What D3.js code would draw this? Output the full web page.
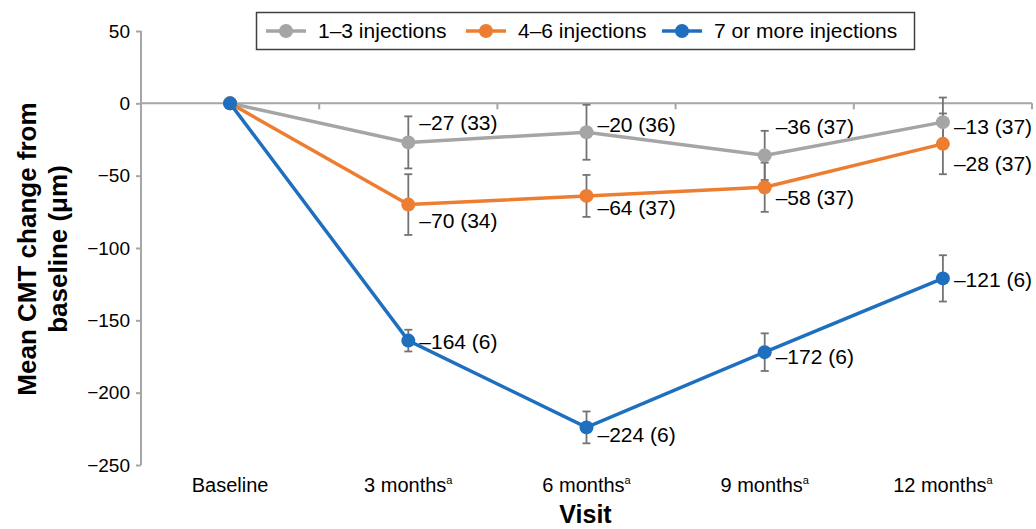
<!DOCTYPE html>
<html>
<head>
<meta charset="utf-8">
<script src="https://cdn.jsdelivr.net/npm/d3@7"></script>
<style>
  body { margin: 0; background: #fff; }
  text { font-family: "Liberation Sans", Arial, sans-serif; }
</style>
</head>
<body>
<svg id="chart" width="1036" height="529"></svg>
<script>
// visits on the x axis
var visits = ["Baseline", "3 months", "6 months", "9 months", "12 months"];
var visitSup = ["", "a", "a", "a", "a"];

// series names
var seriesNames = ["1–3 injections", "4–6 injections", "7 or more injections"];

// mean change, SD for error bars, and n per visit
var low = [0, -27, -20, -36, -13];
var lowErr = [0, 18, 19, 17, 17];
var lowN = [null, 33, 36, 37, 37];

var mid = [0, -70, -64, -58, -28];
var midErr = [0, 21, 14.5, 17, 21];
var midN = [null, 34, 37, 37, 37];

var high = [0, -164, -224, -172, -121];
var highErr = [0, 7.5, 11, 13, 16];
var highN = [null, 6, 6, 6, 6];

var yTicks = [50, 0, -50, -100, -150, -200, -250];

var colors = ["#a5a5a5", "#ed7d31", "#1f6fbf"];
// label vertical offsets per series per visit
var labelDy = [
  [0, -20, -8, -29, 5],
  [0, 16, 12, 10, 20],
  [0, 1, 7, 4, 1]
];

var svg = d3.select("#chart");
var mLeft = 141, mRight = 1032, mTop = 31, mBottom = 465;

var x = d3.scaleBand().domain(visits).range([mLeft, mRight]);
var y = d3.scaleLinear().domain([-250, 50]).range([mBottom, mTop]);
var cx = function(v) { return x(v) + x.bandwidth() / 2; };

var axisColor = "#a6a6a6";

// y axis
var yAxis = svg.append("g")
  .attr("transform", "translate(" + mLeft + ",0)")
  .call(d3.axisLeft(y).tickValues(yTicks).tickSize(5).tickFormat(function(d) {
    return d < 0 ? "\u2212" + Math.abs(d) : d;
  }));
yAxis.select(".domain").attr("stroke", axisColor).attr("stroke-width", 2).attr("d", "M0," + mTop + "V" + mBottom);
yAxis.selectAll(".tick line").attr("stroke", axisColor).attr("stroke-width", 2);
yAxis.selectAll(".tick text").attr("fill", "#000").attr("font-size", 19).attr("x", -11)
  .attr("font-family", "Liberation Sans, Arial, sans-serif");

// x axis at zero
var xAxis = svg.append("g")
  .attr("transform", "translate(0," + y(0) + ")");
xAxis.append("line")
  .attr("x1", mLeft).attr("x2", mRight)
  .attr("stroke", axisColor).attr("stroke-width", 2);
xAxis.selectAll("line.tk")
  .data(visits)
  .enter().append("line")
  .attr("class", "tk")
  .attr("x1", function(d) { return x(d) + x.bandwidth(); })
  .attr("x2", function(d) { return x(d) + x.bandwidth(); })
  .attr("y1", 0).attr("y2", 6)
  .attr("stroke", axisColor).attr("stroke-width", 2);

// category labels at bottom
var xl = svg.selectAll("text.xl")
  .data(visits)
  .enter().append("text")
  .attr("class", "xl")
  .attr("x", function(d) { return cx(d); })
  .attr("y", 492)
  .attr("text-anchor", "middle")
  .attr("font-size", 20);
xl.append("tspan").text(function(d) { return d; });
xl.append("tspan")
  .attr("font-size", 11)
  .attr("dy", -8)
  .text(function(d, i) { return visitSup[i]; });

// axis titles
svg.append("text")
  .attr("x", (mLeft + mRight) / 2 - 1).attr("y", 523)
  .attr("text-anchor", "middle")
  .attr("font-size", 25).attr("font-weight", "bold")
  .text("Visit");

var yt = svg.append("text")
  .attr("transform", "translate(36,249) rotate(-90)")
  .attr("text-anchor", "middle")
  .attr("font-size", 26).attr("font-weight", "bold");
yt.append("tspan").attr("x", 0).attr("dy", 0).text("Mean CMT change from");
yt.append("tspan").attr("x", 0).attr("dy", 31).text("baseline (\u03bcm)");

var series = [
  { name: seriesNames[0], vals: low, err: lowErr, n: lowN },
  { name: seriesNames[1], vals: mid, err: midErr, n: midN },
  { name: seriesNames[2], vals: high, err: highErr, n: highN }
];

// error bars
series.forEach(function(s) {
  var g = svg.append("g").attr("stroke", "#737373").attr("stroke-width", 1.8);
  visits.forEach(function(v, i) {
    if (!s.err[i]) return;
    var px = cx(v);
    var y1 = y(s.vals[i] + s.err[i]), y2 = y(s.vals[i] - s.err[i]);
    g.append("line").attr("x1", px).attr("x2", px).attr("y1", y1).attr("y2", y2);
    g.append("line").attr("x1", px - 4).attr("x2", px + 4).attr("y1", y1).attr("y2", y1);
    g.append("line").attr("x1", px - 4).attr("x2", px + 4).attr("y1", y2).attr("y2", y2);
  });
});

// lines and dots
var line = d3.line()
  .x(function(d, i) { return cx(visits[i]); })
  .y(function(d) { return y(d); });

series.forEach(function(s, k) {
  svg.append("path")
    .attr("d", line(s.vals))
    .attr("fill", "none")
    .attr("stroke", colors[k])
    .attr("stroke-width", 3.5);
  svg.selectAll("circle.s" + k)
    .data(s.vals)
    .enter().append("circle")
    .attr("class", "s" + k)
    .attr("cx", function(d, i) { return cx(visits[i]); })
    .attr("cy", function(d) { return y(d); })
    .attr("r", 7)
    .attr("fill", colors[k]);
});

// value labels
series.forEach(function(s, k) {
  visits.forEach(function(v, i) {
    if (s.n[i] == null) return;
    svg.append("text")
      .attr("x", cx(v) + 11)
      .attr("y", y(s.vals[i]) + labelDy[k][i])
      .attr("dy", "0.35em")
      .attr("font-size", 21)
      .text("\u2013" + Math.abs(s.vals[i]) + " (" + s.n[i] + ")");
  });
});

// legend
var lg = svg.append("g");
lg.append("rect")
  .attr("x", 256.5).attr("y", 12.5).attr("width", 658).attr("height", 37)
  .attr("fill", "#fff").attr("stroke", "#404040").attr("stroke-width", 1.5);
var legX = [266, 466, 662];
series.forEach(function(s, k) {
  var gx = legX[k];
  lg.append("line").attr("x1", gx).attr("x2", gx + 40).attr("y1", 31).attr("y2", 31)
    .attr("stroke", colors[k]).attr("stroke-width", 3.5);
  lg.append("circle").attr("cx", gx + 20).attr("cy", 31).attr("r", 7).attr("fill", colors[k]);
  lg.append("text").attr("x", gx + 52).attr("y", 31).attr("dy", "0.35em")
    .attr("font-size", 21).text(s.name);
});
</script>
</body>
</html>
